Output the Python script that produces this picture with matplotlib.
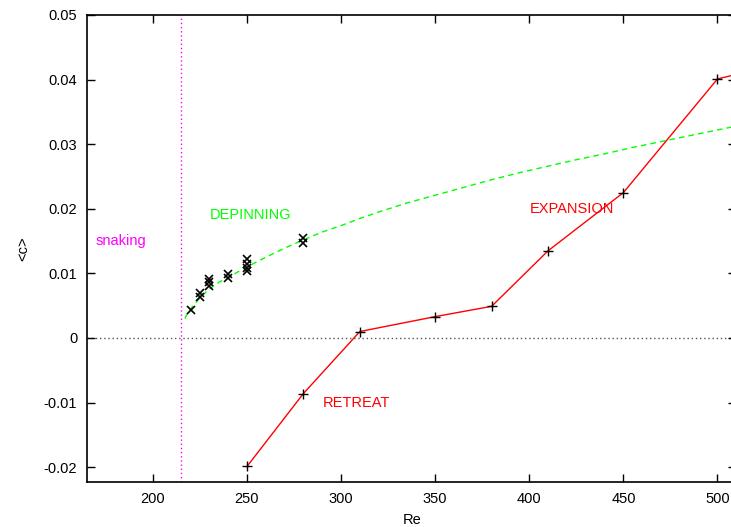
import matplotlib
matplotlib.use("Agg")
import matplotlib.pyplot as plt

plt.rcParams['font.family'] = ['Liberation Sans', 'DejaVu Sans']

# Data
depin_re = [220, 225, 225, 230, 230, 230, 240, 240, 250, 250, 250, 250, 280, 280]
depin_c = [0.0043, 0.0063, 0.0070, 0.0080, 0.0086, 0.0091, 0.0093, 0.0099,
           0.0104, 0.0108, 0.0114, 0.0122, 0.0147, 0.0155]

branch_re = [250, 280, 310, 350, 380, 410, 450, 500, 510]
branch_c = [-0.0199, -0.0086, 0.0010, 0.0033, 0.0049, 0.0135, 0.0225, 0.0401, 0.0408]

fit_re = [217, 218, 220, 225, 230, 235, 240, 250, 260, 270, 280, 290, 300, 310,
          320, 335, 350, 365, 380, 395, 410, 425, 440, 455, 470, 490, 510]
fit_c = [0.0030, 0.0036, 0.0045, 0.0062, 0.0076, 0.0086, 0.0094, 0.0110, 0.0125,
         0.0139, 0.0152, 0.0164, 0.0174, 0.0185, 0.0195, 0.0209, 0.0221, 0.0233,
         0.0245, 0.0256, 0.0266, 0.0276, 0.0285, 0.0295, 0.0304, 0.0316, 0.0328]

snaking_re = 215

xticks = [200, 250, 300, 350, 400, 450, 500]
yticks = [-0.02, -0.01, 0, 0.01, 0.02, 0.03, 0.04, 0.05]
ytick_labels = ['-0.02', '-0.01', '0', '0.01', '0.02', '0.03', '0.04', '0.05']

fig = plt.figure(figsize=(7.31, 5.27), dpi=100)
ax = fig.add_axes([87/731, 1-482/527, (736.3-87)/731, (482-15)/527])
ax.set_xlim(165, 510)
ax.set_ylim(-0.0223, 0.05)

ax.axhline(0, color='#555555', lw=1.0, ls=(0, (1, 2)), zorder=1)
ax.axvline(snaking_re, color='#ff00ff', lw=1.0, ls=(0, (1, 2)), zorder=1)

ax.plot(fit_re, fit_c, color='#00ff00', lw=1.0, ls=(0, (4, 3)), zorder=2)
ax.plot(branch_re, branch_c, color='#ff0000', lw=1.0, zorder=3)
ax.plot(branch_re, branch_c, ls='none', marker='+', ms=7, mew=1.0, color='black', zorder=4)
ax.plot(depin_re, depin_c, ls='none', marker='x', ms=6, mew=1.2, color='black', zorder=4)

fs = 10.5
ax.text(169.7, 0.0150, 'snaking', color='#ff00ff', fontsize=fs, ha='left', va='center')
ax.text(230, 0.0190, 'DEPINNING', color='#00ff00', fontsize=fs, ha='left', va='center')
ax.text(400, 0.0200, 'EXPANSION', color='#ff0000', fontsize=fs, ha='left', va='center')
ax.text(290, -0.0101, 'RETREAT', color='#ff0000', fontsize=fs, ha='left', va='center')

ax.set_xticks(xticks)
ax.set_xticklabels([str(t) for t in xticks])
ax.set_yticks(yticks)
ax.set_yticklabels(ytick_labels)
ax.tick_params(direction='in', length=6, width=1, top=True, right=True,
               labelsize=fs, pad=7)
for s in ax.spines.values():
    s.set_linewidth(1.2)

ax.set_xlabel('Re', fontsize=fs, labelpad=5)
ax.set_ylabel('<c>', fontsize=fs, labelpad=10)

fig.savefig('out.png', dpi=100)
